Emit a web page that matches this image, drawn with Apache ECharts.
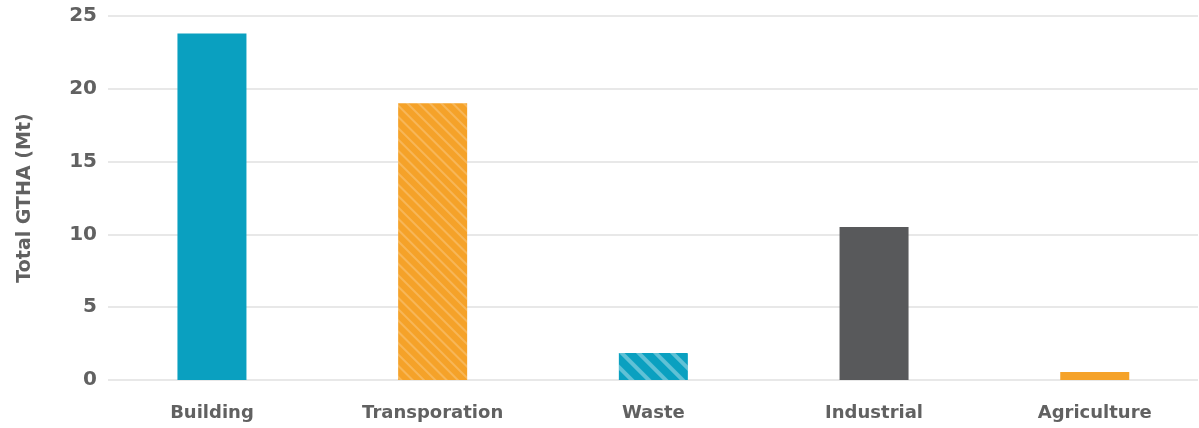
<!DOCTYPE html>
<html>
<head>
<meta charset="utf-8">
<script src="https://cdn.jsdelivr.net/npm/echarts@6/dist/echarts.min.js"></script>
<style>html,body{margin:0;padding:0;background:#fff;}#c{width:1199px;height:428px;}</style>
</head>
<body>
<div id="c"></div>
<script>
var categories = ['Building', 'Transporation', 'Waste', 'Industrial', 'Agriculture'];
var values = [23.8, 19.0, 1.85, 10.5, 0.55];
var barColors = ['#0aa0c0', '#f5a229', '#0aa0c0', '#58595b', '#f5a229'];
var striped = [false, true, true, false, false];
var yTicks = [0, 5, 10, 15, 20, 25];

var FONT = 'DejaVu Sans';
var TEXT = '#616161';
var chart = echarts.init(document.getElementById('c'), null, {renderer: 'canvas'});
var data = values.map(function (v, i) {
  var item = {value: v, itemStyle: {color: barColors[i]}};
  if (striped[i]) {
    item.itemStyle.decal = i === 1 ? {
      symbol: 'rect', color: 'rgba(255,255,255,0.22)',
      dashArrayX: [1, 0], dashArrayY: [2, 6], rotation: Math.PI / 4
    } : {
      symbol: 'rect', color: 'rgba(255,255,255,0.35)',
      dashArrayX: [1, 0], dashArrayY: [4, 8], rotation: Math.PI / 4
    };
  }
  return item;
});
chart.setOption({
  animation: false,
  backgroundColor: '#fff',
  grid: [
    {left: 108, right: 1, top: 16, bottom: 48, containLabel: false, outerBoundsMode: 'none'},
    {left: 101.6, width: 1103.5, top: 16, bottom: 48, containLabel: false, outerBoundsMode: 'none'}
  ],
  xAxis: [
    {type: 'category', gridIndex: 0, data: categories, show: false},
    {
      type: 'category', gridIndex: 1, data: categories,
      axisLine: {show: false}, axisTick: {show: false},
      axisLabel: {color: TEXT, fontSize: 18, fontFamily: FONT, fontWeight: 'bold', margin: 24}
    }
  ],
  yAxis: [
    {
      type: 'value', gridIndex: 0, min: 0, max: 25, interval: 5,
      name: 'Total GTHA (Mt)', nameLocation: 'middle', nameGap: 73,
      nameTextStyle: {color: TEXT, fontSize: 19, fontFamily: FONT, fontWeight: 'bold'},
      axisLine: {show: false}, axisTick: {show: false},
      axisLabel: {color: TEXT, fontSize: 20, fontFamily: FONT, fontWeight: 'bold', margin: 11,
        formatter: function (v) { return yTicks.indexOf(v) >= 0 ? String(v) : ''; }},
      splitLine: {lineStyle: {color: '#e8e8e8', width: 2}}
    },
    {
      type: 'value', gridIndex: 1, min: 0, max: 25, interval: 5, show: false,
      splitLine: {show: false}
    }
  ],
  series: [{
    type: 'bar', xAxisIndex: 1, yAxisIndex: 1, data: data, barWidth: 69
  }]
});
</script>
</body>
</html>
